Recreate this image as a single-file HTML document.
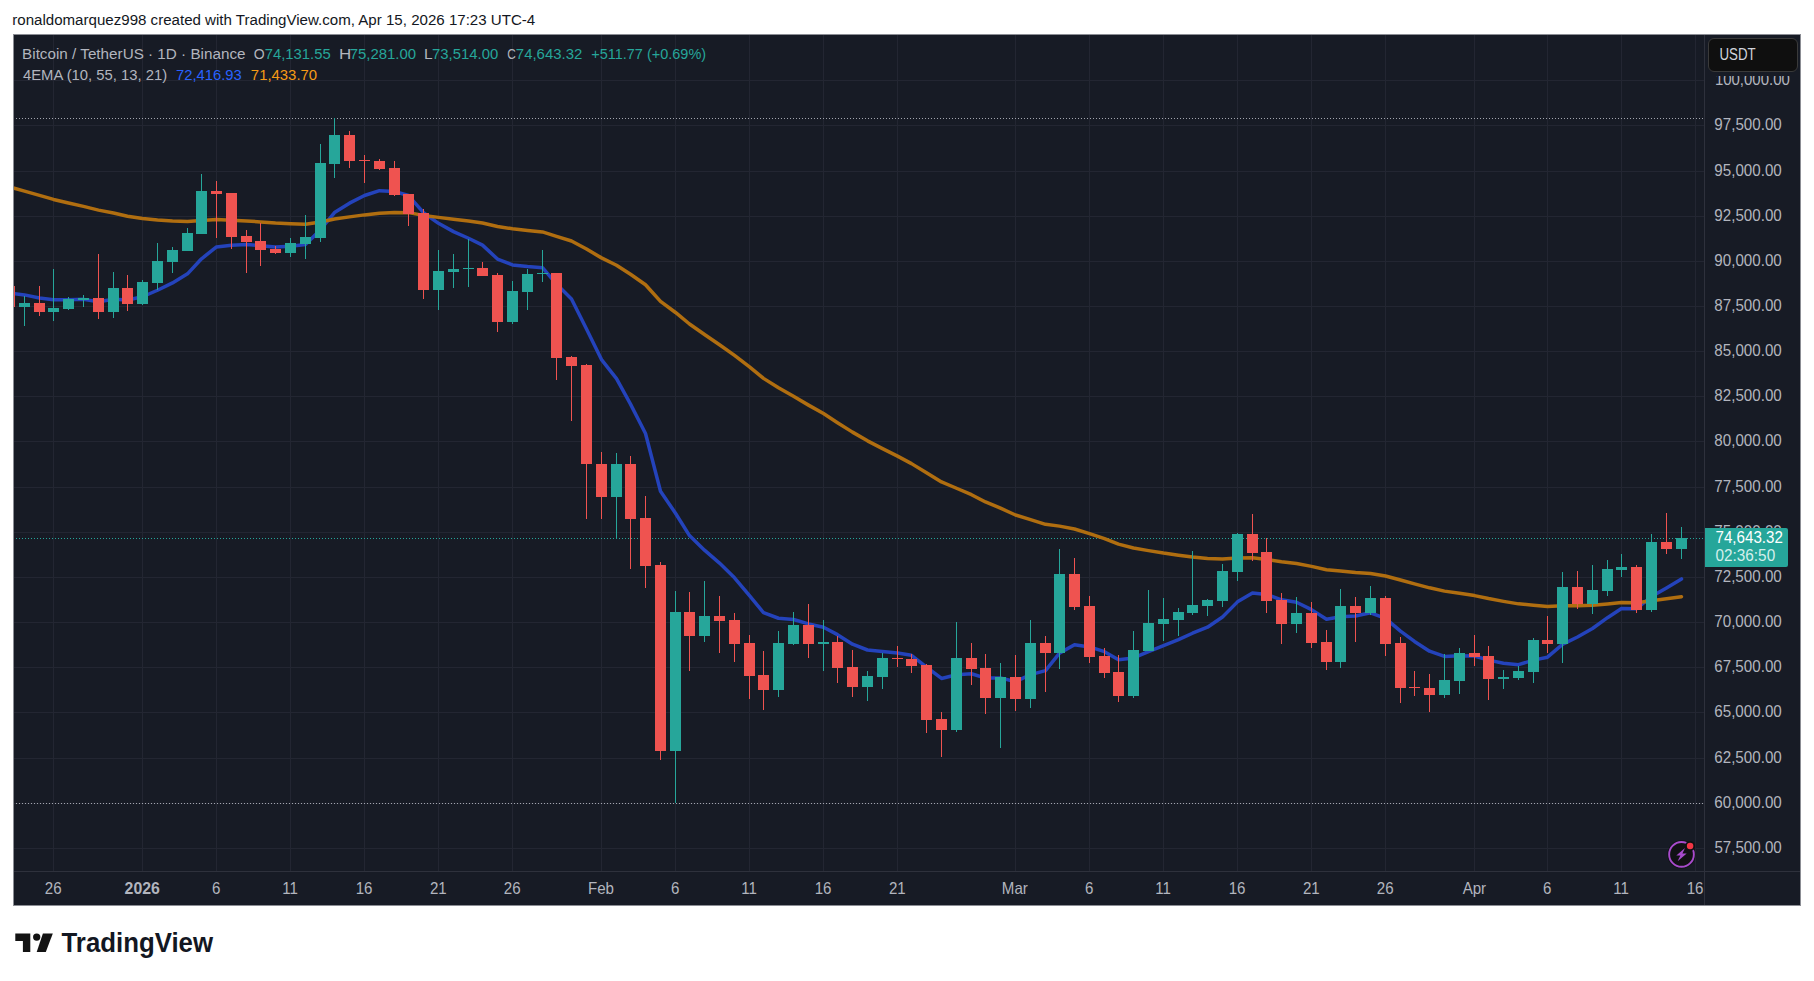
<!DOCTYPE html><html><head><meta charset="utf-8"><style>
html,body{margin:0;padding:0;background:#fff;}
body{width:1814px;height:981px;position:relative;overflow:hidden;font-family:"Liberation Sans",sans-serif;}
#frame{position:absolute;left:13px;top:34px;width:1788px;height:871px;background:#171b25;overflow:hidden;}
</style></head><body>
<div id="frame">
<div style="position:absolute;left:0;top:0;width:1691px;height:837px;overflow:hidden"><svg width="1691" height="837" viewBox="13 34 1691 837" style="position:absolute;left:0;top:0"><line x1="13" y1="80.5" x2="1704" y2="80.5" stroke="#232632" stroke-width="1"/><line x1="13" y1="125.5" x2="1704" y2="125.5" stroke="#232632" stroke-width="1"/><line x1="13" y1="171.5" x2="1704" y2="171.5" stroke="#232632" stroke-width="1"/><line x1="13" y1="216.5" x2="1704" y2="216.5" stroke="#232632" stroke-width="1"/><line x1="13" y1="261.5" x2="1704" y2="261.5" stroke="#232632" stroke-width="1"/><line x1="13" y1="306.5" x2="1704" y2="306.5" stroke="#232632" stroke-width="1"/><line x1="13" y1="351.5" x2="1704" y2="351.5" stroke="#232632" stroke-width="1"/><line x1="13" y1="396.5" x2="1704" y2="396.5" stroke="#232632" stroke-width="1"/><line x1="13" y1="441.5" x2="1704" y2="441.5" stroke="#232632" stroke-width="1"/><line x1="13" y1="487.5" x2="1704" y2="487.5" stroke="#232632" stroke-width="1"/><line x1="13" y1="532.5" x2="1704" y2="532.5" stroke="#232632" stroke-width="1"/><line x1="13" y1="577.5" x2="1704" y2="577.5" stroke="#232632" stroke-width="1"/><line x1="13" y1="622.5" x2="1704" y2="622.5" stroke="#232632" stroke-width="1"/><line x1="13" y1="667.5" x2="1704" y2="667.5" stroke="#232632" stroke-width="1"/><line x1="13" y1="712.5" x2="1704" y2="712.5" stroke="#232632" stroke-width="1"/><line x1="13" y1="758.5" x2="1704" y2="758.5" stroke="#232632" stroke-width="1"/><line x1="13" y1="803.5" x2="1704" y2="803.5" stroke="#232632" stroke-width="1"/><line x1="13" y1="848.5" x2="1704" y2="848.5" stroke="#232632" stroke-width="1"/><line x1="53.5" y1="34" x2="53.5" y2="871" stroke="#232632" stroke-width="1"/><line x1="142.5" y1="34" x2="142.5" y2="871" stroke="#232632" stroke-width="1"/><line x1="216.5" y1="34" x2="216.5" y2="871" stroke="#232632" stroke-width="1"/><line x1="290.5" y1="34" x2="290.5" y2="871" stroke="#232632" stroke-width="1"/><line x1="364.5" y1="34" x2="364.5" y2="871" stroke="#232632" stroke-width="1"/><line x1="438.5" y1="34" x2="438.5" y2="871" stroke="#232632" stroke-width="1"/><line x1="512.5" y1="34" x2="512.5" y2="871" stroke="#232632" stroke-width="1"/><line x1="601.5" y1="34" x2="601.5" y2="871" stroke="#232632" stroke-width="1"/><line x1="675.5" y1="34" x2="675.5" y2="871" stroke="#232632" stroke-width="1"/><line x1="749.5" y1="34" x2="749.5" y2="871" stroke="#232632" stroke-width="1"/><line x1="823.5" y1="34" x2="823.5" y2="871" stroke="#232632" stroke-width="1"/><line x1="897.5" y1="34" x2="897.5" y2="871" stroke="#232632" stroke-width="1"/><line x1="1015.5" y1="34" x2="1015.5" y2="871" stroke="#232632" stroke-width="1"/><line x1="1089.5" y1="34" x2="1089.5" y2="871" stroke="#232632" stroke-width="1"/><line x1="1163.5" y1="34" x2="1163.5" y2="871" stroke="#232632" stroke-width="1"/><line x1="1237.5" y1="34" x2="1237.5" y2="871" stroke="#232632" stroke-width="1"/><line x1="1311.5" y1="34" x2="1311.5" y2="871" stroke="#232632" stroke-width="1"/><line x1="1385.5" y1="34" x2="1385.5" y2="871" stroke="#232632" stroke-width="1"/><line x1="1474.5" y1="34" x2="1474.5" y2="871" stroke="#232632" stroke-width="1"/><line x1="1547.5" y1="34" x2="1547.5" y2="871" stroke="#232632" stroke-width="1"/><line x1="1621.5" y1="34" x2="1621.5" y2="871" stroke="#232632" stroke-width="1"/><line x1="1695.5" y1="34" x2="1695.5" y2="871" stroke="#232632" stroke-width="1"/><line x1="13" y1="118.5" x2="1704" y2="118.5" stroke="#a3a6af" stroke-width="1" stroke-dasharray="1 2"/><line x1="13" y1="803.5" x2="1704" y2="803.5" stroke="#a3a6af" stroke-width="1" stroke-dasharray="1 2"/><line x1="13" y1="538.5" x2="1704" y2="538.5" stroke="#26a69a" stroke-width="1" stroke-dasharray="1 2"/><path d="M9.5,293.09 L24.5,294.89 L39.5,298.00 L53.5,299.80 L68.5,299.66 L83.5,299.36 L98.5,301.65 L113.5,299.15 L127.5,300.03 L142.5,296.76 L157.5,290.25 L172.5,282.92 L187.5,273.84 L201.5,258.76 L216.5,246.99 L231.5,245.19 L246.5,244.61 L260.5,245.63 L275.5,246.97 L290.5,246.23 L305.5,244.51 L320.5,229.71 L334.5,212.55 L349.5,203.17 L364.5,195.51 L379.5,190.69 L394.5,191.47 L408.5,195.53 L423.5,212.71 L438.5,223.31 L453.5,231.61 L468.5,238.23 L482.5,245.11 L497.5,259.09 L512.5,264.90 L527.5,266.55 L542.5,267.69 L556.5,284.07 L571.5,298.97 L586.5,329.06 L601.5,359.60 L616.5,378.58 L630.5,404.11 L645.5,433.55 L660.5,491.26 L675.5,513.23 L689.5,535.56 L704.5,550.20 L719.5,563.09 L734.5,577.80 L749.5,595.60 L763.5,612.73 L778.5,618.25 L793.5,619.48 L808.5,623.94 L823.5,627.24 L837.5,634.67 L852.5,644.20 L867.5,650.00 L882.5,651.47 L897.5,652.90 L911.5,655.28 L926.5,667.01 L941.5,678.46 L956.5,674.78 L971.5,673.71 L985.5,678.11 L1000.5,677.91 L1015.5,681.69 L1030.5,674.63 L1045.5,670.66 L1059.5,653.13 L1074.5,644.70 L1089.5,646.92 L1104.5,651.66 L1118.5,659.72 L1133.5,657.94 L1148.5,651.60 L1163.5,645.66 L1178.5,639.54 L1192.5,633.24 L1207.5,627.20 L1222.5,616.96 L1237.5,601.86 L1252.5,592.98 L1266.5,594.40 L1281.5,599.80 L1296.5,602.20 L1311.5,609.64 L1326.5,619.19 L1340.5,616.78 L1355.5,616.05 L1370.5,612.81 L1385.5,618.44 L1400.5,631.05 L1414.5,641.42 L1429.5,651.17 L1444.5,656.41 L1459.5,655.79 L1474.5,655.97 L1488.5,660.16 L1503.5,663.22 L1518.5,664.64 L1533.5,660.16 L1547.5,657.20 L1562.5,644.44 L1577.5,637.01 L1592.5,628.48 L1607.5,617.67 L1621.5,608.46 L1636.5,608.74 L1651.5,596.60 L1666.5,587.95 L1681.5,578.94" fill="none" stroke="#2443bb" stroke-width="3.5" stroke-linejoin="round" stroke-linecap="round"/><path d="M9.5,186.95 L24.5,191.09 L39.5,195.41 L53.5,199.43 L68.5,202.98 L83.5,206.38 L98.5,210.15 L113.5,212.93 L127.5,216.18 L142.5,218.53 L157.5,220.05 L172.5,221.11 L187.5,221.54 L201.5,220.44 L216.5,219.50 L231.5,220.13 L246.5,220.91 L260.5,221.95 L275.5,223.06 L290.5,223.77 L305.5,224.24 L320.5,222.05 L334.5,218.95 L349.5,216.89 L364.5,214.89 L379.5,213.25 L394.5,212.60 L408.5,212.64 L423.5,215.40 L438.5,217.39 L453.5,219.23 L468.5,220.97 L482.5,222.94 L497.5,226.48 L512.5,228.79 L527.5,230.40 L542.5,231.91 L556.5,236.41 L571.5,241.04 L586.5,249.02 L601.5,257.88 L616.5,265.24 L630.5,274.30 L645.5,284.72 L660.5,301.37 L675.5,312.47 L689.5,324.02 L704.5,334.45 L719.5,344.69 L734.5,355.38 L749.5,366.82 L763.5,378.36 L778.5,387.81 L793.5,396.28 L808.5,405.13 L823.5,413.59 L837.5,422.68 L852.5,432.13 L867.5,440.84 L882.5,448.60 L897.5,456.12 L911.5,463.62 L926.5,472.77 L941.5,481.96 L956.5,488.25 L971.5,494.70 L985.5,501.96 L1000.5,508.21 L1015.5,515.01 L1030.5,519.58 L1045.5,524.34 L1059.5,526.12 L1074.5,529.00 L1089.5,533.57 L1104.5,538.55 L1118.5,544.17 L1133.5,547.95 L1148.5,550.63 L1163.5,553.07 L1178.5,555.17 L1192.5,556.95 L1207.5,558.49 L1222.5,558.93 L1237.5,558.04 L1252.5,557.86 L1266.5,559.39 L1281.5,561.70 L1296.5,563.53 L1311.5,566.38 L1326.5,569.80 L1340.5,571.09 L1355.5,572.58 L1370.5,573.49 L1385.5,576.00 L1400.5,580.00 L1414.5,583.86 L1429.5,587.83 L1444.5,591.12 L1459.5,593.33 L1474.5,595.60 L1488.5,598.57 L1503.5,601.37 L1518.5,603.86 L1533.5,605.15 L1547.5,606.54 L1562.5,605.84 L1577.5,605.76 L1592.5,605.20 L1607.5,603.91 L1621.5,602.59 L1636.5,602.85 L1651.5,600.68 L1666.5,598.83 L1681.5,596.68" fill="none" stroke="#b06e10" stroke-width="3.5" stroke-linejoin="round" stroke-linecap="round"/><g shape-rendering="crispEdges"><rect x="9" y="286" width="1" height="21" fill="#ef5350"/><rect x="4" y="286" width="11" height="21" fill="#ef5350"/><rect x="24" y="296" width="1" height="30" fill="#26a69a"/><rect x="19" y="303" width="11" height="4" fill="#26a69a"/><rect x="39" y="286" width="1" height="30" fill="#ef5350"/><rect x="34" y="303" width="11" height="9" fill="#ef5350"/><rect x="53" y="269" width="1" height="52" fill="#26a69a"/><rect x="48" y="308" width="11" height="4" fill="#26a69a"/><rect x="68" y="297" width="1" height="13" fill="#26a69a"/><rect x="63" y="299" width="11" height="10" fill="#26a69a"/><rect x="83" y="295" width="1" height="12" fill="#26a69a"/><rect x="78" y="298" width="11" height="2" fill="#26a69a"/><rect x="98" y="254" width="1" height="65" fill="#ef5350"/><rect x="93" y="298" width="11" height="14" fill="#ef5350"/><rect x="113" y="272" width="1" height="46" fill="#26a69a"/><rect x="108" y="288" width="11" height="24" fill="#26a69a"/><rect x="127" y="275" width="1" height="36" fill="#ef5350"/><rect x="122" y="288" width="11" height="16" fill="#ef5350"/><rect x="142" y="280" width="1" height="25" fill="#26a69a"/><rect x="137" y="282" width="11" height="22" fill="#26a69a"/><rect x="157" y="243" width="1" height="47" fill="#26a69a"/><rect x="152" y="261" width="11" height="22" fill="#26a69a"/><rect x="172" y="247" width="1" height="26" fill="#26a69a"/><rect x="167" y="250" width="11" height="12" fill="#26a69a"/><rect x="187" y="228" width="1" height="23" fill="#26a69a"/><rect x="182" y="233" width="11" height="18" fill="#26a69a"/><rect x="201" y="174" width="1" height="60" fill="#26a69a"/><rect x="196" y="191" width="11" height="43" fill="#26a69a"/><rect x="216" y="181" width="1" height="57" fill="#ef5350"/><rect x="211" y="191" width="11" height="3" fill="#ef5350"/><rect x="231" y="193" width="1" height="56" fill="#ef5350"/><rect x="226" y="193" width="11" height="44" fill="#ef5350"/><rect x="246" y="230" width="1" height="43" fill="#ef5350"/><rect x="241" y="236" width="11" height="6" fill="#ef5350"/><rect x="260" y="223" width="1" height="43" fill="#ef5350"/><rect x="255" y="241" width="11" height="9" fill="#ef5350"/><rect x="275" y="246" width="1" height="8" fill="#ef5350"/><rect x="270" y="249" width="11" height="4" fill="#ef5350"/><rect x="290" y="238" width="1" height="19" fill="#26a69a"/><rect x="285" y="243" width="11" height="10" fill="#26a69a"/><rect x="305" y="215" width="1" height="44" fill="#26a69a"/><rect x="300" y="237" width="11" height="7" fill="#26a69a"/><rect x="320" y="144" width="1" height="98" fill="#26a69a"/><rect x="315" y="163" width="11" height="75" fill="#26a69a"/><rect x="334" y="118" width="1" height="60" fill="#26a69a"/><rect x="329" y="135" width="11" height="29" fill="#26a69a"/><rect x="349" y="131" width="1" height="37" fill="#ef5350"/><rect x="344" y="135" width="11" height="26" fill="#ef5350"/><rect x="364" y="155" width="1" height="28" fill="#ef5350"/><rect x="359" y="160" width="11" height="1" fill="#ef5350"/><rect x="379" y="159" width="1" height="11" fill="#ef5350"/><rect x="374" y="161" width="11" height="8" fill="#ef5350"/><rect x="394" y="161" width="1" height="35" fill="#ef5350"/><rect x="389" y="168" width="11" height="27" fill="#ef5350"/><rect x="408" y="194" width="1" height="32" fill="#ef5350"/><rect x="403" y="194" width="11" height="20" fill="#ef5350"/><rect x="423" y="209" width="1" height="90" fill="#ef5350"/><rect x="418" y="213" width="11" height="77" fill="#ef5350"/><rect x="438" y="250" width="1" height="60" fill="#26a69a"/><rect x="433" y="271" width="11" height="19" fill="#26a69a"/><rect x="453" y="254" width="1" height="34" fill="#26a69a"/><rect x="448" y="269" width="11" height="3" fill="#26a69a"/><rect x="468" y="239" width="1" height="48" fill="#26a69a"/><rect x="463" y="268" width="11" height="1" fill="#26a69a"/><rect x="482" y="262" width="1" height="14" fill="#ef5350"/><rect x="477" y="268" width="11" height="8" fill="#ef5350"/><rect x="497" y="273" width="1" height="59" fill="#ef5350"/><rect x="492" y="275" width="11" height="47" fill="#ef5350"/><rect x="512" y="281" width="1" height="43" fill="#26a69a"/><rect x="507" y="291" width="11" height="31" fill="#26a69a"/><rect x="527" y="269" width="1" height="41" fill="#26a69a"/><rect x="522" y="274" width="11" height="18" fill="#26a69a"/><rect x="542" y="250" width="1" height="32" fill="#26a69a"/><rect x="537" y="273" width="11" height="1" fill="#26a69a"/><rect x="556" y="273" width="1" height="107" fill="#ef5350"/><rect x="551" y="273" width="11" height="85" fill="#ef5350"/><rect x="571" y="356" width="1" height="65" fill="#ef5350"/><rect x="566" y="357" width="11" height="9" fill="#ef5350"/><rect x="586" y="364" width="1" height="155" fill="#ef5350"/><rect x="581" y="365" width="11" height="99" fill="#ef5350"/><rect x="601" y="452" width="1" height="67" fill="#ef5350"/><rect x="596" y="464" width="11" height="33" fill="#ef5350"/><rect x="616" y="453" width="1" height="85" fill="#26a69a"/><rect x="611" y="464" width="11" height="33" fill="#26a69a"/><rect x="630" y="456" width="1" height="113" fill="#ef5350"/><rect x="625" y="464" width="11" height="55" fill="#ef5350"/><rect x="645" y="496" width="1" height="92" fill="#ef5350"/><rect x="640" y="518" width="11" height="48" fill="#ef5350"/><rect x="660" y="562" width="1" height="198" fill="#ef5350"/><rect x="655" y="565" width="11" height="186" fill="#ef5350"/><rect x="675" y="591" width="1" height="212" fill="#26a69a"/><rect x="670" y="612" width="11" height="139" fill="#26a69a"/><rect x="689" y="592" width="1" height="79" fill="#ef5350"/><rect x="684" y="612" width="11" height="24" fill="#ef5350"/><rect x="704" y="581" width="1" height="61" fill="#26a69a"/><rect x="699" y="616" width="11" height="20" fill="#26a69a"/><rect x="719" y="596" width="1" height="57" fill="#ef5350"/><rect x="714" y="616" width="11" height="5" fill="#ef5350"/><rect x="734" y="613" width="1" height="49" fill="#ef5350"/><rect x="729" y="620" width="11" height="24" fill="#ef5350"/><rect x="749" y="635" width="1" height="64" fill="#ef5350"/><rect x="744" y="643" width="11" height="33" fill="#ef5350"/><rect x="763" y="651" width="1" height="59" fill="#ef5350"/><rect x="758" y="675" width="11" height="15" fill="#ef5350"/><rect x="778" y="631" width="1" height="66" fill="#26a69a"/><rect x="773" y="643" width="11" height="47" fill="#26a69a"/><rect x="793" y="612" width="1" height="33" fill="#26a69a"/><rect x="788" y="625" width="11" height="19" fill="#26a69a"/><rect x="808" y="604" width="1" height="54" fill="#ef5350"/><rect x="803" y="625" width="11" height="19" fill="#ef5350"/><rect x="823" y="620" width="1" height="51" fill="#26a69a"/><rect x="818" y="642" width="11" height="2" fill="#26a69a"/><rect x="837" y="636" width="1" height="47" fill="#ef5350"/><rect x="832" y="642" width="11" height="26" fill="#ef5350"/><rect x="852" y="650" width="1" height="47" fill="#ef5350"/><rect x="847" y="667" width="11" height="20" fill="#ef5350"/><rect x="867" y="671" width="1" height="30" fill="#26a69a"/><rect x="862" y="676" width="11" height="11" fill="#26a69a"/><rect x="882" y="653" width="1" height="36" fill="#26a69a"/><rect x="877" y="658" width="11" height="19" fill="#26a69a"/><rect x="897" y="646" width="1" height="21" fill="#ef5350"/><rect x="892" y="658" width="11" height="1" fill="#ef5350"/><rect x="911" y="654" width="1" height="19" fill="#ef5350"/><rect x="906" y="659" width="11" height="7" fill="#ef5350"/><rect x="926" y="664" width="1" height="69" fill="#ef5350"/><rect x="921" y="665" width="11" height="55" fill="#ef5350"/><rect x="941" y="712" width="1" height="45" fill="#ef5350"/><rect x="936" y="719" width="11" height="11" fill="#ef5350"/><rect x="956" y="622" width="1" height="110" fill="#26a69a"/><rect x="951" y="658" width="11" height="72" fill="#26a69a"/><rect x="971" y="643" width="1" height="42" fill="#ef5350"/><rect x="966" y="658" width="11" height="11" fill="#ef5350"/><rect x="985" y="654" width="1" height="60" fill="#ef5350"/><rect x="980" y="668" width="11" height="30" fill="#ef5350"/><rect x="1000" y="663" width="1" height="85" fill="#26a69a"/><rect x="995" y="677" width="11" height="21" fill="#26a69a"/><rect x="1015" y="655" width="1" height="56" fill="#ef5350"/><rect x="1010" y="677" width="11" height="22" fill="#ef5350"/><rect x="1030" y="620" width="1" height="88" fill="#26a69a"/><rect x="1025" y="643" width="11" height="56" fill="#26a69a"/><rect x="1045" y="636" width="1" height="56" fill="#ef5350"/><rect x="1040" y="643" width="11" height="10" fill="#ef5350"/><rect x="1059" y="549" width="1" height="120" fill="#26a69a"/><rect x="1054" y="574" width="11" height="79" fill="#26a69a"/><rect x="1074" y="558" width="1" height="52" fill="#ef5350"/><rect x="1069" y="574" width="11" height="33" fill="#ef5350"/><rect x="1089" y="596" width="1" height="67" fill="#ef5350"/><rect x="1084" y="606" width="11" height="51" fill="#ef5350"/><rect x="1104" y="648" width="1" height="30" fill="#ef5350"/><rect x="1099" y="656" width="11" height="17" fill="#ef5350"/><rect x="1118" y="655" width="1" height="47" fill="#ef5350"/><rect x="1113" y="672" width="11" height="24" fill="#ef5350"/><rect x="1133" y="631" width="1" height="67" fill="#26a69a"/><rect x="1128" y="650" width="11" height="46" fill="#26a69a"/><rect x="1148" y="590" width="1" height="61" fill="#26a69a"/><rect x="1143" y="623" width="11" height="28" fill="#26a69a"/><rect x="1163" y="598" width="1" height="43" fill="#26a69a"/><rect x="1158" y="619" width="11" height="5" fill="#26a69a"/><rect x="1178" y="608" width="1" height="28" fill="#26a69a"/><rect x="1173" y="612" width="11" height="8" fill="#26a69a"/><rect x="1192" y="551" width="1" height="64" fill="#26a69a"/><rect x="1187" y="605" width="11" height="8" fill="#26a69a"/><rect x="1207" y="599" width="1" height="17" fill="#26a69a"/><rect x="1202" y="600" width="11" height="6" fill="#26a69a"/><rect x="1222" y="564" width="1" height="43" fill="#26a69a"/><rect x="1217" y="571" width="11" height="30" fill="#26a69a"/><rect x="1237" y="533" width="1" height="48" fill="#26a69a"/><rect x="1232" y="534" width="11" height="38" fill="#26a69a"/><rect x="1252" y="514" width="1" height="47" fill="#ef5350"/><rect x="1247" y="534" width="11" height="19" fill="#ef5350"/><rect x="1266" y="538" width="1" height="75" fill="#ef5350"/><rect x="1261" y="552" width="11" height="49" fill="#ef5350"/><rect x="1281" y="593" width="1" height="51" fill="#ef5350"/><rect x="1276" y="600" width="11" height="24" fill="#ef5350"/><rect x="1296" y="597" width="1" height="36" fill="#26a69a"/><rect x="1291" y="613" width="11" height="11" fill="#26a69a"/><rect x="1311" y="602" width="1" height="46" fill="#ef5350"/><rect x="1306" y="613" width="11" height="30" fill="#ef5350"/><rect x="1326" y="630" width="1" height="40" fill="#ef5350"/><rect x="1321" y="642" width="11" height="20" fill="#ef5350"/><rect x="1340" y="589" width="1" height="79" fill="#26a69a"/><rect x="1335" y="606" width="11" height="56" fill="#26a69a"/><rect x="1355" y="597" width="1" height="45" fill="#ef5350"/><rect x="1350" y="606" width="11" height="7" fill="#ef5350"/><rect x="1370" y="586" width="1" height="29" fill="#26a69a"/><rect x="1365" y="598" width="11" height="15" fill="#26a69a"/><rect x="1385" y="596" width="1" height="60" fill="#ef5350"/><rect x="1380" y="598" width="11" height="46" fill="#ef5350"/><rect x="1400" y="637" width="1" height="66" fill="#ef5350"/><rect x="1395" y="643" width="11" height="45" fill="#ef5350"/><rect x="1414" y="671" width="1" height="25" fill="#ef5350"/><rect x="1409" y="687" width="11" height="1" fill="#ef5350"/><rect x="1429" y="674" width="1" height="38" fill="#ef5350"/><rect x="1424" y="688" width="11" height="7" fill="#ef5350"/><rect x="1444" y="654" width="1" height="44" fill="#26a69a"/><rect x="1439" y="680" width="11" height="15" fill="#26a69a"/><rect x="1459" y="648" width="1" height="46" fill="#26a69a"/><rect x="1454" y="653" width="11" height="28" fill="#26a69a"/><rect x="1474" y="635" width="1" height="31" fill="#ef5350"/><rect x="1469" y="653" width="11" height="4" fill="#ef5350"/><rect x="1488" y="646" width="1" height="54" fill="#ef5350"/><rect x="1483" y="656" width="11" height="23" fill="#ef5350"/><rect x="1503" y="670" width="1" height="19" fill="#26a69a"/><rect x="1498" y="677" width="11" height="2" fill="#26a69a"/><rect x="1518" y="666" width="1" height="14" fill="#26a69a"/><rect x="1513" y="671" width="11" height="7" fill="#26a69a"/><rect x="1533" y="638" width="1" height="45" fill="#26a69a"/><rect x="1528" y="640" width="11" height="32" fill="#26a69a"/><rect x="1547" y="616" width="1" height="37" fill="#ef5350"/><rect x="1542" y="640" width="11" height="4" fill="#ef5350"/><rect x="1562" y="572" width="1" height="91" fill="#26a69a"/><rect x="1557" y="587" width="11" height="57" fill="#26a69a"/><rect x="1577" y="571" width="1" height="38" fill="#ef5350"/><rect x="1572" y="587" width="11" height="17" fill="#ef5350"/><rect x="1592" y="565" width="1" height="49" fill="#26a69a"/><rect x="1587" y="590" width="11" height="14" fill="#26a69a"/><rect x="1607" y="560" width="1" height="36" fill="#26a69a"/><rect x="1602" y="569" width="11" height="22" fill="#26a69a"/><rect x="1621" y="554" width="1" height="23" fill="#26a69a"/><rect x="1616" y="567" width="11" height="3" fill="#26a69a"/><rect x="1636" y="565" width="1" height="48" fill="#ef5350"/><rect x="1631" y="567" width="11" height="43" fill="#ef5350"/><rect x="1651" y="534" width="1" height="78" fill="#26a69a"/><rect x="1646" y="542" width="11" height="68" fill="#26a69a"/><rect x="1666" y="513" width="1" height="41" fill="#ef5350"/><rect x="1661" y="542" width="11" height="7" fill="#ef5350"/><rect x="1681" y="527" width="1" height="32" fill="#26a69a"/><rect x="1676" y="538" width="11" height="11" fill="#26a69a"/></g></svg></div>
<div style="position:absolute;left:1691px;top:0;width:1px;height:871px;background:#2e313c"></div>
<div style="position:absolute;left:0;top:837px;width:1788px;height:1px;background:#2e313c"></div>
</div>
<div style="position:absolute;left:13px;top:34px;width:1788px;height:1px;background:#8b8d94"></div>
<div style="position:absolute;left:13px;top:905px;width:1788px;height:1px;background:#8b8d94"></div>
<div style="position:absolute;left:13px;top:34px;width:1px;height:872px;background:#8b8d94"></div>
<div style="position:absolute;left:1800px;top:34px;width:1px;height:872px;background:#8b8d94"></div>
<svg style="position:absolute;left:0;top:0" width="1814" height="981">
<circle cx="1681.5" cy="854.5" r="14.2" fill="#0d0d10" opacity="0.6"/>
<circle cx="1681.5" cy="854.4" r="12.35" fill="#111114" stroke="#a84bcc" stroke-width="1.9"/>
<circle cx="1690.1" cy="846.1" r="5.0" fill="#111114"/>
<circle cx="1690.1" cy="846.1" r="3.25" fill="#f23645"/>
<path d="M1685.0 847.9 L1676.3 855.4 L1680.4 855.4 L1677.6 861.2 L1686.7 853.6 L1682.4 853.6 Z" fill="#a84bcc"/>
<path d="M15.3 933.5 H30.3 V952 H22.9 V940.9 H15.3 Z" fill="#131313"/>
<circle cx="36.7" cy="937.1" r="3.65" fill="#131313"/>
<path d="M42.9 933.5 L52.8 933.5 L45.8 952 L36.7 952 Z" fill="#131313"/>
</svg>
<svg width="1814" height="981" style="position:absolute;left:0;top:0" font-family="Liberation Sans, sans-serif"><text x="12.22" y="24.90" font-size="15.43" font-weight="normal" textLength="523.03" lengthAdjust="spacingAndGlyphs" fill="#131722" >ronaldomarquez998 created with TradingView.com, Apr 15, 2026 17:23 UTC-4</text><text x="22.08" y="58.90" font-size="15.36" font-weight="normal" textLength="223.41" lengthAdjust="spacingAndGlyphs" fill="#b2b5be" >Bitcoin / TetherUS · 1D · Binance</text><text x="253.87" y="58.90" font-size="15.36" font-weight="normal" textLength="10.90" lengthAdjust="spacingAndGlyphs" fill="#b2b5be" >O</text><text x="264.66" y="58.90" font-size="15.36" font-weight="normal" textLength="66.02" lengthAdjust="spacingAndGlyphs" fill="#26a69a" >74,131.55</text><text x="338.94" y="58.90" font-size="15.36" font-weight="normal" textLength="12.25" lengthAdjust="spacingAndGlyphs" fill="#b2b5be" >H</text><text x="349.65" y="58.90" font-size="15.36" font-weight="normal" textLength="66.45" lengthAdjust="spacingAndGlyphs" fill="#26a69a" >75,281.00</text><text x="423.96" y="58.90" font-size="15.36" font-weight="normal" textLength="8.62" lengthAdjust="spacingAndGlyphs" fill="#b2b5be" >L</text><text x="432.06" y="58.90" font-size="15.36" font-weight="normal" textLength="66.15" lengthAdjust="spacingAndGlyphs" fill="#26a69a" >73,514.00</text><text x="507.21" y="58.90" font-size="15.36" font-weight="normal" textLength="8.53" lengthAdjust="spacingAndGlyphs" fill="#b2b5be" >C</text><text x="515.85" y="58.90" font-size="15.36" font-weight="normal" textLength="66.48" lengthAdjust="spacingAndGlyphs" fill="#26a69a" >74,643.32</text><text x="591.18" y="58.90" font-size="15.36" font-weight="normal" textLength="114.92" lengthAdjust="spacingAndGlyphs" fill="#26a69a" >+511.77 (+0.69%)</text><text x="23.00" y="79.70" font-size="14.93" font-weight="normal" textLength="144.13" lengthAdjust="spacingAndGlyphs" fill="#b2b5be" >4EMA (10, 55, 13, 21)</text><text x="175.96" y="79.70" font-size="14.93" font-weight="normal" textLength="65.81" lengthAdjust="spacingAndGlyphs" fill="#2962ff" >72,416.93</text><text x="250.86" y="79.70" font-size="14.93" font-weight="normal" textLength="66.25" lengthAdjust="spacingAndGlyphs" fill="#f59a16" >71,433.70</text><text x="1714.88" y="84.60" font-size="15.80" font-weight="normal" textLength="74.95" lengthAdjust="spacingAndGlyphs" fill="#b2b5be" >100,000.00</text><text x="1714.32" y="129.60" font-size="15.80" font-weight="normal" textLength="67.50" lengthAdjust="spacingAndGlyphs" fill="#b2b5be" >97,500.00</text><text x="1714.32" y="175.60" font-size="15.80" font-weight="normal" textLength="67.50" lengthAdjust="spacingAndGlyphs" fill="#b2b5be" >95,000.00</text><text x="1714.32" y="220.60" font-size="15.80" font-weight="normal" textLength="67.50" lengthAdjust="spacingAndGlyphs" fill="#b2b5be" >92,500.00</text><text x="1714.32" y="265.60" font-size="15.80" font-weight="normal" textLength="67.50" lengthAdjust="spacingAndGlyphs" fill="#b2b5be" >90,000.00</text><text x="1714.32" y="310.60" font-size="15.80" font-weight="normal" textLength="67.50" lengthAdjust="spacingAndGlyphs" fill="#b2b5be" >87,500.00</text><text x="1714.32" y="355.60" font-size="15.80" font-weight="normal" textLength="67.50" lengthAdjust="spacingAndGlyphs" fill="#b2b5be" >85,000.00</text><text x="1714.32" y="400.60" font-size="15.80" font-weight="normal" textLength="67.50" lengthAdjust="spacingAndGlyphs" fill="#b2b5be" >82,500.00</text><text x="1714.32" y="445.60" font-size="15.80" font-weight="normal" textLength="67.50" lengthAdjust="spacingAndGlyphs" fill="#b2b5be" >80,000.00</text><text x="1714.24" y="491.60" font-size="15.80" font-weight="normal" textLength="67.57" lengthAdjust="spacingAndGlyphs" fill="#b2b5be" >77,500.00</text><text x="1714.24" y="536.60" font-size="15.80" font-weight="normal" textLength="67.57" lengthAdjust="spacingAndGlyphs" fill="#b2b5be" >75,000.00</text><text x="1714.24" y="581.60" font-size="15.80" font-weight="normal" textLength="67.57" lengthAdjust="spacingAndGlyphs" fill="#b2b5be" >72,500.00</text><text x="1714.24" y="626.60" font-size="15.80" font-weight="normal" textLength="67.57" lengthAdjust="spacingAndGlyphs" fill="#b2b5be" >70,000.00</text><text x="1714.24" y="671.60" font-size="15.80" font-weight="normal" textLength="67.57" lengthAdjust="spacingAndGlyphs" fill="#b2b5be" >67,500.00</text><text x="1714.24" y="716.60" font-size="15.80" font-weight="normal" textLength="67.57" lengthAdjust="spacingAndGlyphs" fill="#b2b5be" >65,000.00</text><text x="1714.24" y="762.60" font-size="15.80" font-weight="normal" textLength="67.57" lengthAdjust="spacingAndGlyphs" fill="#b2b5be" >62,500.00</text><text x="1714.24" y="807.60" font-size="15.80" font-weight="normal" textLength="67.57" lengthAdjust="spacingAndGlyphs" fill="#b2b5be" >60,000.00</text><text x="1714.39" y="852.60" font-size="15.80" font-weight="normal" textLength="67.42" lengthAdjust="spacingAndGlyphs" fill="#b2b5be" >57,500.00</text><text x="44.85" y="894.00" font-size="15.86" font-weight="normal" textLength="16.79" lengthAdjust="spacingAndGlyphs" fill="#b2b5be">26</text><text x="124.64" y="894.00" font-size="15.86" font-weight="bold" textLength="35.31" lengthAdjust="spacingAndGlyphs" fill="#b2b5be">2026</text><text x="212.03" y="894.00" font-size="15.86" font-weight="normal" textLength="8.40" lengthAdjust="spacingAndGlyphs" fill="#b2b5be">6</text><text x="282.26" y="894.00" font-size="15.86" font-weight="normal" textLength="15.67" lengthAdjust="spacingAndGlyphs" fill="#b2b5be">11</text><text x="355.66" y="894.00" font-size="15.86" font-weight="normal" textLength="16.79" lengthAdjust="spacingAndGlyphs" fill="#b2b5be">16</text><text x="429.88" y="894.00" font-size="15.86" font-weight="normal" textLength="16.79" lengthAdjust="spacingAndGlyphs" fill="#b2b5be">21</text><text x="503.85" y="894.00" font-size="15.86" font-weight="normal" textLength="16.79" lengthAdjust="spacingAndGlyphs" fill="#b2b5be">26</text><text x="588.01" y="894.00" font-size="15.86" font-weight="normal" textLength="26.02" lengthAdjust="spacingAndGlyphs" fill="#b2b5be">Feb</text><text x="671.03" y="894.00" font-size="15.86" font-weight="normal" textLength="8.40" lengthAdjust="spacingAndGlyphs" fill="#b2b5be">6</text><text x="741.26" y="894.00" font-size="15.86" font-weight="normal" textLength="15.67" lengthAdjust="spacingAndGlyphs" fill="#b2b5be">11</text><text x="814.66" y="894.00" font-size="15.86" font-weight="normal" textLength="16.79" lengthAdjust="spacingAndGlyphs" fill="#b2b5be">16</text><text x="888.88" y="894.00" font-size="15.86" font-weight="normal" textLength="16.79" lengthAdjust="spacingAndGlyphs" fill="#b2b5be">21</text><text x="1001.82" y="894.00" font-size="15.86" font-weight="normal" textLength="26.00" lengthAdjust="spacingAndGlyphs" fill="#b2b5be">Mar</text><text x="1085.03" y="894.00" font-size="15.86" font-weight="normal" textLength="8.40" lengthAdjust="spacingAndGlyphs" fill="#b2b5be">6</text><text x="1155.26" y="894.00" font-size="15.86" font-weight="normal" textLength="15.67" lengthAdjust="spacingAndGlyphs" fill="#b2b5be">11</text><text x="1228.66" y="894.00" font-size="15.86" font-weight="normal" textLength="16.79" lengthAdjust="spacingAndGlyphs" fill="#b2b5be">16</text><text x="1302.88" y="894.00" font-size="15.86" font-weight="normal" textLength="16.79" lengthAdjust="spacingAndGlyphs" fill="#b2b5be">21</text><text x="1376.85" y="894.00" font-size="15.86" font-weight="normal" textLength="16.79" lengthAdjust="spacingAndGlyphs" fill="#b2b5be">26</text><text x="1462.67" y="894.00" font-size="15.86" font-weight="normal" textLength="23.50" lengthAdjust="spacingAndGlyphs" fill="#b2b5be">Apr</text><text x="1543.03" y="894.00" font-size="15.86" font-weight="normal" textLength="8.40" lengthAdjust="spacingAndGlyphs" fill="#b2b5be">6</text><text x="1613.26" y="894.00" font-size="15.86" font-weight="normal" textLength="15.67" lengthAdjust="spacingAndGlyphs" fill="#b2b5be">11</text><text x="1686.66" y="894.00" font-size="15.86" font-weight="normal" textLength="16.79" lengthAdjust="spacingAndGlyphs" fill="#b2b5be">16</text><text x="61.54" y="952.00" font-size="26.81" font-weight="bold" textLength="151.49" lengthAdjust="spacingAndGlyphs" fill="#131722" >TradingView</text></svg>
<div style="position:absolute;left:1705px;top:70px;width:95px;height:5.7px;background:#171b25"></div>
<div style="position:absolute;left:1708px;top:38px;width:90px;height:34px;box-sizing:border-box;border:1.2px solid #3a3a3a;border-radius:6px;background:#0f0f0f"></div>
<div style="position:absolute;left:1705px;top:528px;width:83px;height:39px;background:#26a69a;border-radius:0 2px 2px 0"></div>
<svg width="1814" height="981" style="position:absolute;left:0;top:0" font-family="Liberation Sans, sans-serif"><text x="1719.50" y="59.90" font-size="15.94" font-weight="normal" textLength="36.19" lengthAdjust="spacingAndGlyphs" fill="#d1d4dc" >USDT</text><text x="1715.54" y="543.00" font-size="15.80" font-weight="normal" textLength="67.29" lengthAdjust="spacingAndGlyphs" fill="#ffffff" >74,643.32</text><text x="1715.49" y="561.20" font-size="15.57" font-weight="normal" textLength="59.69" lengthAdjust="spacingAndGlyphs" fill="#d5efec" >02:36:50</text></svg>
</body></html>
